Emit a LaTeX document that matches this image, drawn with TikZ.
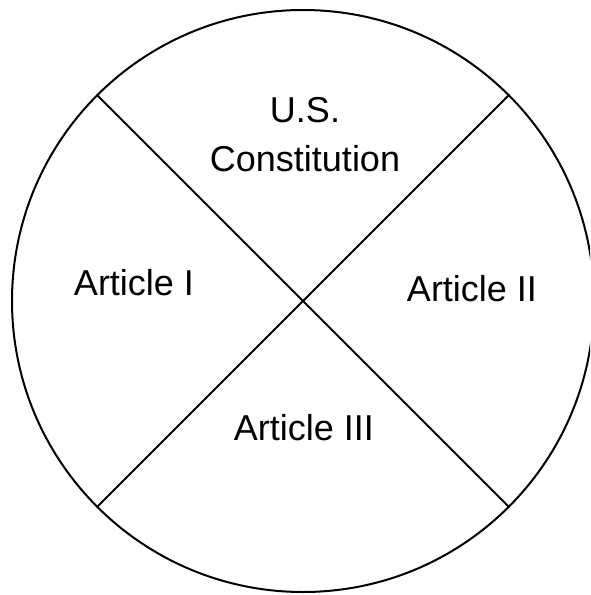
\documentclass[tikz,border=0pt]{standalone}
\usepackage{fontspec}
\setmainfont{Liberation Sans}
\begin{document}
\begin{tikzpicture}[x=1pt,y=-1pt,
  lbl/.style={anchor=base,inner sep=0pt,font=\fontsize{36}{49}\selectfont},
  ring/.style={draw,circle,line width=2pt,minimum size=582pt,inner sep=0pt},
  divider/.style={line width=2pt}]
\useasboundingbox (0,0) rectangle (590,595);
\clip (0,0) rectangle (590,595);
\node[ring] (c) at (303,301) {};
\draw[divider] (c.135) -- (c.315);
\draw[divider] (c.45) -- (c.225);
\node[lbl] (us) at (305,122) {U.S.};
\node[lbl] (con) at (305,171) {Constitution};
\node[lbl] (a1) at (134,295) {Article I};
\node[lbl] (a2) at (472,301) {Article II};
\node[lbl] (a3) at (304,440) {Article III};
\end{tikzpicture}
\end{document}
